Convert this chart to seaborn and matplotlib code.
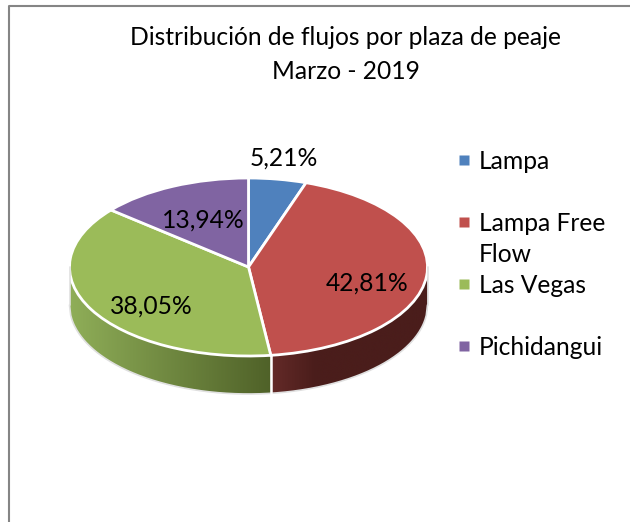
import numpy as np
import matplotlib
matplotlib.use('Agg')
import matplotlib.pyplot as plt
import seaborn as sns
from matplotlib.colors import to_rgb
from matplotlib.patches import Polygon

# datos
plazas = ['Lampa', 'Lampa Free\nFlow', 'Las Vegas', 'Pichidangui']
porcentajes = [5.21, 42.81, 38.05, 13.94]
colores = ['#4f81bd', '#c0504d', '#9bbb59', '#8064a2']

W, H = 630, 522
sns.set_theme(style='white')
plt.rcParams['font.family'] = ['Lato', 'DejaVu Sans']
paleta = sns.color_palette(colores)

fig = plt.figure(figsize=(W / 100, H / 100), dpi=100, facecolor='white')

# capa en pixeles para textos y marco
capa = fig.add_axes([0, 0, 1, 1], zorder=3)
capa.set_xlim(0, W)
capa.set_ylim(H, 0)
capa.axis('off')
capa.patch.set_alpha(0)

# torta aplastada: elipse centrada en (248.5, 267)
cx, cy, rx, ry, alto = 248.5, 267, 179, 89, 38
ax = fig.add_axes([(cx - rx) / W, (H - cy - ry) / H, 2 * rx / W, 2 * ry / H], zorder=2)
ax.pie(porcentajes, colors=paleta, startangle=90, counterclock=False, radius=1,
       wedgeprops={'edgecolor': 'white', 'linewidth': 2, 'clip_on': False})

# lado de la torta, a partir de los angulos de cada trozo
limites = np.cumsum([0] + porcentajes) / sum(porcentajes) * 2 * np.pi
x_corte = np.sin(limites[2])
prof = alto / ry


def lado(x0, x1, ramp_x, ramp_c):
    xs = np.linspace(x0, x1, 400)
    arriba = -np.sqrt(np.clip(1 - xs ** 2, 0, 1))
    rgb = np.array([np.interp(xs, ramp_x, [to_rgb(k)[i] for k in ramp_c]) for i in range(3)]).T
    im = ax.imshow(rgb[np.newaxis, :, :], extent=[x0, x1, -1 - prof, 0], aspect='auto',
                   zorder=0, interpolation='bilinear')
    forma = Polygon(np.column_stack([np.r_[xs, xs[::-1]], np.r_[arriba, (arriba - prof)[::-1]]]),
                    transform=ax.transData)
    im.set_clip_box(fig.bbox)
    im.set_clip_path(forma)


lado(-1, x_corte, [-1, x_corte], ['#8fae58', '#4f6128'])
lado(x_corte, 1, [x_corte, x_corte + 0.25, 1], ['#642a28', '#4a1d1b', '#4a1d1b'])

# borde claro y separacion entre lados
t = np.linspace(-1, 1, 300)
ax.plot(t, -np.sqrt(1 - t ** 2) - prof, color='#e0e0e0', lw=1.2, clip_on=False, zorder=1)
ax.plot([-1, -1], [0, -prof], color='#e0e0e0', lw=1.2, clip_on=False, zorder=1)
ax.plot([1, 1], [0, -prof], color='#e0e0e0', lw=1.2, clip_on=False, zorder=1)
ax.plot([x_corte, x_corte], [-np.sqrt(1 - x_corte ** 2), -np.sqrt(1 - x_corte ** 2) - prof],
        color='white', lw=1.8, clip_on=False, zorder=1)
ax.set_aspect('auto')
ax.set_xlim(-1, 1)
ax.set_ylim(-1, 1)
ax.axis('off')

# marco
capa.plot([8.5, 8.5, W], [H, 5.5, 5.5], color='#858585', lw=1.5, clip_on=False)

# titulo
capa.text(346, 37.5, 'Distribución de flujos por plaza de peaje', ha='center', va='center',
          fontsize=17.7, color='black')
capa.text(346, 71.5, 'Marzo - 2019', ha='center', va='center', fontsize=17.7, color='black')

# etiquetas
pos_etq = [(284, 158.5), (367, 283.5), (151, 306.5), (203, 220.5)]
for v, (x, y) in zip(porcentajes, pos_etq):
    capa.text(x, y, f'{v:.2f}%'.replace('.', ','), ha='center', va='center',
              fontsize=17.7, color='black')

# leyenda
pos_ley = [160, 222, 284, 346]
for nombre, c, y in zip(plazas, paleta, pos_ley):
    capa.plot([464], [y], marker='s', ms=6.5, color=c, mec='none', ls='none')
    lineas = nombre.split('\n')
    for i, linea in enumerate(lineas):
        capa.text(479, y + 1.5 + i * 31, linea, ha='left', va='center', fontsize=17.7, color='black')

fig.savefig('out.png', dpi=100, facecolor='white')
